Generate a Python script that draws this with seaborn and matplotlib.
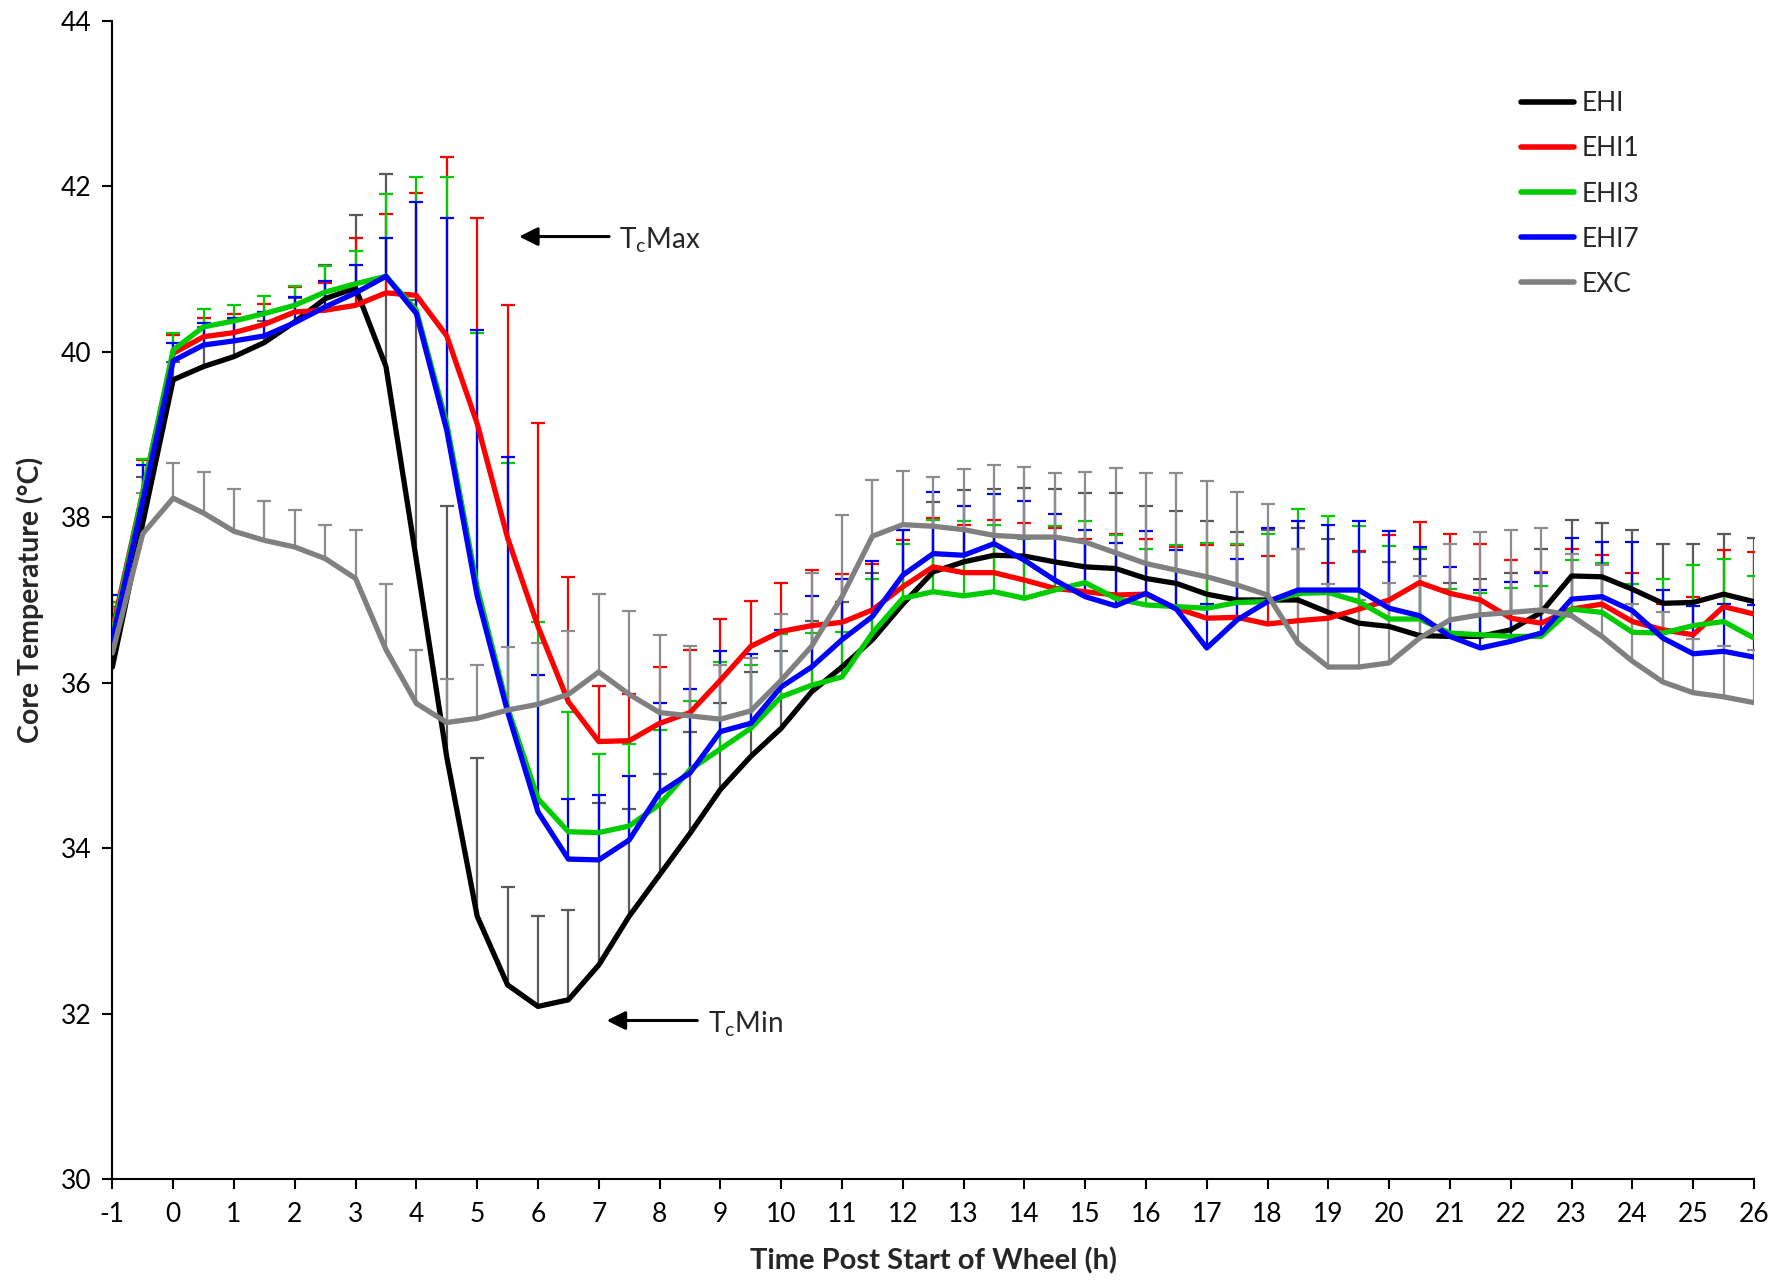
import numpy as np
import pandas as pd
import matplotlib
matplotlib.use("Agg")
import matplotlib.pyplot as plt
import seaborn as sns

# ---------------- data ----------------
time = [-1, -0.5, 0, 0.5, 1, 1.5, 2, 2.5, 3, 3.5, 4, 4.5, 5, 5.5, 6, 6.5, 7, 7.5,
        8, 8.5, 9, 9.5, 10, 10.5, 11, 11.5, 12, 12.5, 13, 13.5, 14, 14.5, 15, 15.5,
        16, 16.5, 17, 17.5, 18, 18.5, 19, 19.5, 20, 20.5, 21, 21.5, 22, 22.5, 23,
        23.5, 24, 24.5, 25, 25.5, 26]

series_names = ["EHI", "EHI1", "EHI3", "EHI7", "EXC"]

ehi = [36.19, 37.93, 39.66, 39.82, 39.94, 40.11, 40.36, 40.64, 40.77, 39.82, 37.48,
       35.10, 33.18, 32.35, 32.09, 32.17, 32.59, 33.18, 33.68, 34.18, 34.71, 35.11,
       35.45, 35.89, 36.19, 36.52, 36.95, 37.34, 37.46, 37.54, 37.53, 37.46, 37.40,
       37.38, 37.26, 37.20, 37.07, 37.00, 37.00, 37.00, 36.85, 36.72, 36.68, 36.57,
       36.56, 36.56, 36.64, 36.85, 37.29, 37.28, 37.13, 36.96, 36.97, 37.07, 36.98]
ehi_up = [36.92, 38.48, 39.87, 40.30, 40.40, 40.37, 40.65, 41.05, 41.65, 42.14, 40.62,
          38.14, 35.09, 33.53, 33.18, 33.26, 34.55, 34.48, 34.90, 35.40, 35.75, 36.13,
          36.38, 36.74, 36.97, 37.32, 37.84, 38.18, 38.33, 38.34, 38.35, 38.34, 38.29,
          38.29, 38.14, 38.08, 37.96, 37.82, 37.85, 37.87, 37.74, 37.58, 37.46, 37.50,
          37.20, 37.25, 37.33, 37.62, 37.97, 37.93, 37.85, 37.68, 37.68, 37.80, 37.75]

ehi1 = [36.64, 38.30, 39.98, 40.18, 40.23, 40.33, 40.48, 40.50, 40.56, 40.71, 40.68,
        40.19, 39.13, 37.75, 36.68, 35.77, 35.29, 35.30, 35.51, 35.64, 36.03, 36.44,
        36.62, 36.69, 36.73, 36.88, 37.16, 37.40, 37.33, 37.33, 37.24, 37.14, 37.10,
        37.06, 37.07, 36.90, 36.78, 36.79, 36.71, 36.75, 36.78, 36.89, 37.00, 37.21,
        37.08, 37.00, 36.78, 36.72, 36.89, 36.95, 36.74, 36.64, 36.58, 36.92, 36.83]
ehi1_up = [36.98, 38.69, 40.20, 40.41, 40.45, 40.58, 40.78, 40.83, 41.37, 41.66, 41.92,
           42.35, 41.62, 40.56, 39.14, 37.28, 35.96, 35.86, 36.19, 36.40, 36.77, 36.99,
           37.21, 37.36, 37.31, 37.44, 37.72, 37.99, 37.91, 37.97, 37.93, 37.87, 37.74,
           37.80, 37.74, 37.64, 37.66, 37.66, 37.53, 37.62, 37.45, 37.59, 37.78, 37.94,
           37.80, 37.68, 37.48, 37.34, 37.62, 37.54, 37.33, 36.95, 37.03, 37.60, 37.58]

ehi3 = [36.58, 38.30, 40.02, 40.30, 40.37, 40.46, 40.56, 40.72, 40.82, 40.91, 40.50,
        39.13, 37.15, 35.70, 34.60, 34.20, 34.19, 34.27, 34.53, 34.95, 35.20, 35.45,
        35.83, 35.97, 36.07, 36.60, 37.02, 37.10, 37.05, 37.10, 37.02, 37.12, 37.21,
        37.02, 36.94, 36.92, 36.90, 36.97, 36.98, 37.08, 37.09, 36.98, 36.77, 36.77,
        36.60, 36.58, 36.56, 36.56, 36.89, 36.85, 36.61, 36.60, 36.69, 36.74, 36.54]
ehi3_up = [36.98, 38.70, 40.23, 40.52, 40.56, 40.67, 40.79, 41.03, 41.22, 41.91, 42.11,
           42.11, 40.22, 38.66, 36.73, 35.65, 35.14, 35.26, 35.43, 35.78, 36.25, 36.21,
           36.59, 36.60, 36.61, 37.25, 37.68, 37.97, 37.96, 37.91, 37.74, 37.89, 37.95,
           37.79, 37.61, 37.66, 37.69, 37.68, 37.80, 38.10, 38.01, 37.89, 37.65, 37.61,
           37.13, 37.08, 37.15, 37.17, 37.48, 37.45, 37.19, 37.25, 37.42, 37.49, 37.29]

ehi7 = [36.52, 38.20, 39.89, 40.08, 40.13, 40.19, 40.35, 40.54, 40.71, 40.91, 40.46,
        39.05, 37.05, 35.65, 34.44, 33.87, 33.86, 34.10, 34.67, 34.91, 35.41, 35.51,
        35.95, 36.19, 36.52, 36.80, 37.30, 37.56, 37.54, 37.68, 37.48, 37.24, 37.04,
        36.93, 37.08, 36.89, 36.42, 36.76, 36.98, 37.12, 37.12, 37.12, 36.90, 36.81,
        36.56, 36.42, 36.50, 36.60, 37.01, 37.04, 36.87, 36.54, 36.35, 36.38, 36.31]
ehi7_up = [37.06, 38.63, 40.11, 40.35, 40.41, 40.48, 40.66, 40.85, 41.05, 41.37, 41.81,
           41.62, 40.26, 38.73, 36.09, 34.60, 34.64, 34.87, 35.76, 35.93, 36.38, 36.35,
           36.64, 37.05, 37.25, 37.47, 37.85, 38.30, 38.14, 38.28, 38.19, 38.04, 37.85,
           37.69, 37.83, 37.60, 36.95, 37.50, 37.87, 37.95, 37.90, 37.95, 37.83, 37.64,
           37.40, 37.12, 37.22, 37.33, 37.75, 37.70, 37.70, 37.12, 36.93, 36.95, 36.94]

exc = [36.36, 37.80, 38.23, 38.05, 37.83, 37.72, 37.64, 37.50, 37.26, 36.40, 35.75,
       35.52, 35.57, 35.67, 35.74, 35.86, 36.13, 35.86, 35.64, 35.60, 35.56, 35.66,
       36.03, 36.44, 37.04, 37.77, 37.91, 37.89, 37.85, 37.78, 37.76, 37.76, 37.70,
       37.57, 37.44, 37.36, 37.28, 37.18, 37.06, 36.48, 36.19, 36.19, 36.24, 36.54,
       36.76, 36.82, 36.85, 36.88, 36.81, 36.56, 36.26, 36.01, 35.88, 35.83, 35.76]
exc_up = [36.90, 38.29, 38.65, 38.54, 38.34, 38.19, 38.09, 37.91, 37.85, 37.19, 36.40,
          36.05, 36.22, 36.43, 36.48, 36.62, 37.07, 36.87, 36.58, 36.44, 36.21, 36.30,
          36.83, 37.33, 38.03, 38.45, 38.56, 38.49, 38.58, 38.63, 38.61, 38.53, 38.54,
          38.59, 38.53, 38.53, 38.44, 38.30, 38.16, 37.62, 37.19, 37.00, 37.21, 37.29,
          37.68, 37.82, 37.85, 37.87, 37.55, 37.42, 36.95, 36.85, 36.53, 36.44, 36.40]

x_ticks = list(range(-1, 27))
y_ticks = [30, 32, 34, 36, 38, 40, 42, 44]

# ---------------- styling ----------------
line_colors = ["#000000", "#FF0000", "#00CC00", "#0000FF", "#808080"]
err_colors = ["#595959", "#FF0000", "#00CC00", "#0000FF", "#8C8C8C"]

sns.set_style("ticks")
plt.rcParams["font.family"] = ["Lato", "DejaVu Sans"]
plt.rcParams["axes.unicode_minus"] = False
plt.rcParams["mathtext.fontset"] = "custom"
plt.rcParams["mathtext.rm"] = "Lato"
plt.rcParams["mathtext.it"] = "Lato:italic"
plt.rcParams["mathtext.bf"] = "Lato:bold"

means = [ehi, ehi1, ehi3, ehi7, exc]
uppers = [ehi_up, ehi1_up, ehi3_up, ehi7_up, exc_up]

df = pd.DataFrame({
    "Time": np.tile(time, len(series_names)),
    "Temp": np.concatenate(means),
    "Group": np.repeat(series_names, len(time)),
})

fig = plt.figure(figsize=(17.78, 12.82), dpi=100)
ax = fig.add_axes([0.0632, 0.080, 0.9233, 0.904])

# one-sided (upper) error bars with a cap only at the top
for m, u, c in zip(means, uppers, err_colors):
    ax.vlines(time, m, u, colors=c, linewidth=1.6, zorder=1)
    ax.plot(time, u, linestyle="none", marker="_", markersize=10,
            markeredgewidth=1.6, color=c, zorder=1)

sns.lineplot(data=df, x="Time", y="Temp", hue="Group", hue_order=series_names,
             palette=line_colors, linewidth=3.8, ax=ax, legend=True, zorder=3)

ax.set_xlim(-1, 26)
ax.set_ylim(30, 44)
ax.set_xticks(x_ticks)
ax.set_yticks(y_ticks)
ax.tick_params(axis="both", direction="out", length=7, width=1.5, labelsize=19,
               colors="black")
ax.tick_params(axis="x", pad=9)
ax.tick_params(axis="y", pad=8)
for side in ["top", "right"]:
    ax.spines[side].set_visible(False)
for side in ["left", "bottom"]:
    ax.spines[side].set_linewidth(1.5)
    ax.spines[side].set_color("black")

ax.set_xlabel("Time Post Start of Wheel (h)", fontsize=21, fontweight="bold", labelpad=15)
ax.set_ylabel("Core Temperature (°C)", fontsize=20.5, fontweight="bold", labelpad=12)

handles, labels = ax.get_legend_handles_labels()
keep = [(h, l) for h, l in zip(handles, labels) if l in series_names]
leg = ax.legend([h for h, _ in keep], [l for _, l in keep], loc="upper left",
                bbox_to_anchor=(0.848, 0.939), bbox_transform=fig.transFigure,
                frameon=False, fontsize=19, handlelength=2.0, handletextpad=0.3,
                labelspacing=0.76, borderpad=0)
for h in leg.get_lines():
    h.set_linewidth(4)

arrow_kw = dict(arrowstyle="-|>", color="black", lw=2.2, mutation_scale=28,
                shrinkA=0, shrinkB=0)
ax.annotate("", xy=(5.69, 41.39), xytext=(7.17, 41.39), arrowprops=arrow_kw)
ax.text(7.33, 41.34, r"T$_\mathrm{c}$Max", fontsize=20, va="center", ha="left")
ax.annotate("", xy=(7.13, 31.92), xytext=(8.62, 31.92), arrowprops=arrow_kw)
ax.text(8.80, 31.87, r"T$_\mathrm{c}$Min", fontsize=20, va="center", ha="left")

fig.savefig("out.png", dpi=100)
